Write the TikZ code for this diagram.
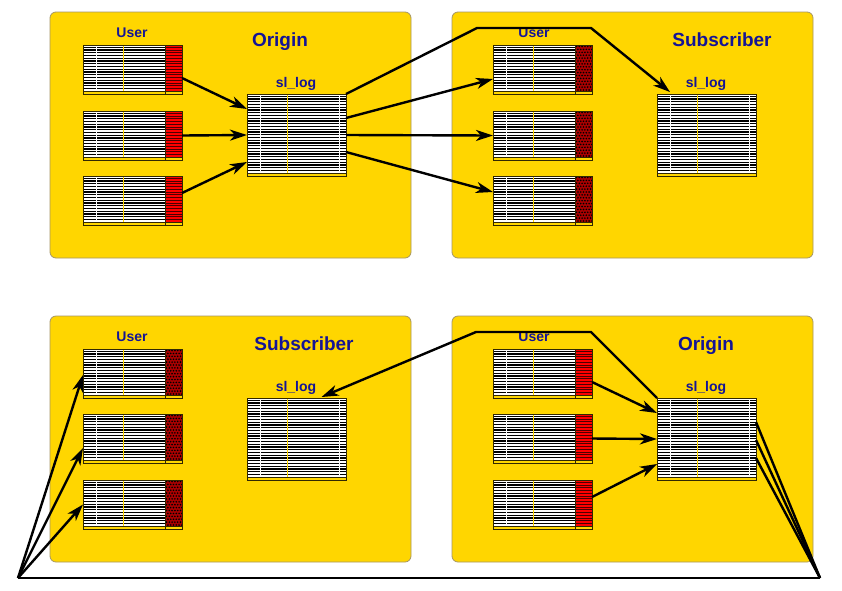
\documentclass[tikz,border=0pt]{standalone}
\usepackage{fontspec}
\setmainfont{Liberation Sans}
\usetikzlibrary{arrows.meta}
\definecolor{gold}{RGB}{255,214,0}
\definecolor{panelline}{RGB}{165,150,100}
\definecolor{navy}{RGB}{20,20,150}
\definecolor{origred}{RGB}{255,0,0}
\definecolor{subred}{RGB}{170,0,0}
\definecolor{tabline}{RGB}{50,40,0}
\tikzset{
  panel/.style={draw=panelline, fill=gold, line width=0.8pt, rounded corners=6pt,
    minimum width=361pt, minimum height=246pt, inner sep=0pt, outer sep=0pt, anchor=north west},
  tabbox/.style={fill=white, draw=none, inner sep=0pt, outer sep=0pt, anchor=north west},
  rowline/.style={black, line width=1.2pt},
  ptitle/.style={text=navy, anchor=base, font=\bfseries\fontsize{19}{22}\selectfont},
  plabel/.style={text=navy, anchor=base, font=\bfseries\fontsize{14}{16}\selectfont},
  conn/.style={black, line width=2.4pt},
  arr/.style={conn, -{Stealth[length=17pt,width=11pt,inset=5pt]}}
}
\newcommand\utab[4]{%
  \node[tabbox, minimum width=99pt, minimum height=49pt] (#1) at (#2,#3) {};
  \begin{scope}[shift={(#2,#3)}]
    \foreach \k in {0,...,15} \draw[rowline] (0,{2.2+\k*2.75}) -- (82,{2.2+\k*2.75});
    \ifx#4s
      \fill[subred] (82,0) rectangle (99,46);
      \foreach \k in {0,...,15} \foreach \j in {0,...,5}
        \fill[black] ({83.5+\j*2.8+mod(\k,2)*1.4},{1.5+\k*2.9}) circle (0.9);
    \else
      \fill[origred] (82,0) rectangle (99,46);
      \foreach \k in {0,...,15} \draw[black!70!red, line width=0.5pt] (82,{2.2+\k*2.75}) -- (99,{2.2+\k*2.75});
    \fi
    \fill[gold] (0,46) rectangle (99,49);
    \draw[white, line width=1pt] (13,0) -- (13,46);
    \draw[gold, line width=0.5pt] (40,0) -- (40,46);
    \draw[tabline, line width=0.6pt] (82,0) -- (82,49);
    \draw[tabline, line width=1pt] (0,46) -- (99,46);
    \draw[tabline, line width=1pt] (0,0) rectangle (99,49);
  \end{scope}}
\newcommand\logtab[3]{%
  \node[tabbox, minimum width=99pt, minimum height=82pt] (#1) at (#2,#3) {};
  \begin{scope}[shift={(#2,#3)}]
    \foreach \k in {0,...,27} \draw[rowline] (0,{2.2+\k*2.75}) -- (99,{2.2+\k*2.75});
    \fill[gold] (0,79) rectangle (99,82);
    \draw[white, line width=1pt] (13,0) -- (13,79);
    \draw[white, line width=1pt] (92,0) -- (92,79);
    \draw[gold, line width=0.5pt] (40,0) -- (40,79);
    \draw[tabline, line width=1pt] (0,79) -- (99,79);
    \draw[tabline, line width=1pt] (0,0) rectangle (99,82);
  \end{scope}}
\begin{document}
\begin{tikzpicture}[x=1pt, y=-1pt]
\useasboundingbox (0,0) rectangle (842,590);
\fill[white] (0,0) rectangle (842,590);
% panels
\node[panel] (ptl) at (50,12) {};
\node[panel] (ptr) at (452,12) {};
\node[panel] (pbl) at (50,316) {};
\node[panel] (pbr) at (452,316) {};
% titles
\node[ptitle] (ttl) at (280,46) {Origin};
\node[ptitle] (ttr) at (722,46) {Subscriber};
\node[ptitle] (tbl) at (304,350) {Subscriber};
\node[ptitle] (tbr) at (706,350) {Origin};
\node[plabel] (utl) at (132,37) {User};
\node[plabel] (utr) at (534,37) {User};
\node[plabel] (ubl) at (132,341) {User};
\node[plabel] (ubr) at (534,341) {User};
\node[plabel] (ltl) at (296,87) {sl\_log};
\node[plabel] (ltr) at (706,87) {sl\_log};
\node[plabel] (lbl) at (296,391) {sl\_log};
\node[plabel] (lbr) at (706,391) {sl\_log};
% tables
\utab{tlu1}{83}{45}{o}
\utab{tlu2}{83}{111}{o}
\utab{tlu3}{83}{176}{o}
\logtab{tllog}{247}{94}
\utab{tru1}{493}{45}{s}
\utab{tru2}{493}{111}{s}
\utab{tru3}{493}{176}{s}
\logtab{trlog}{657}{94}
\utab{blu1}{83}{349}{s}
\utab{blu2}{83}{414}{s}
\utab{blu3}{83}{480}{s}
\logtab{bllog}{247}{398}
\utab{bru1}{493}{349}{o}
\utab{bru2}{493}{414}{o}
\utab{bru3}{493}{480}{o}
\logtab{brlog}{657}{398}
% bend points
\coordinate (b1) at (477,28);
\coordinate (b2) at (591,28);
\coordinate (b3) at (591,332);
\coordinate (b4) at (476,332);
\coordinate (c1) at (820,578);
\coordinate (c2) at (18,578);
% top-left arrows
\draw[arr] ([yshift=-8.5pt]tlu1.east) -- ([yshift=26pt]tllog.west);
\draw[arr] (tlu2.east) -- (tllog.west);
\draw[arr] ([yshift=7.5pt]tlu3.east) -- ([yshift=-27pt]tllog.west);
% origin log to subscriber
\draw[arr] ([yshift=17pt]tllog.east) -- ([yshift=-9.5pt]tru1.west);
\draw[arr] (tllog.east) -- (tru2.west);
\draw[arr] ([yshift=-17pt]tllog.east) -- ([yshift=8.5pt]tru3.west);
\draw[arr, line join=miter] (tllog.north east) -- (b1) -- (b2) -- ([xshift=13pt,yshift=2pt]trlog.north west);
% bottom-right arrows
\draw[arr] ([yshift=-8.5pt]bru1.east) -- ([yshift=26pt]brlog.west);
\draw[arr] (bru2.east) -- (brlog.west);
\draw[arr] ([yshift=7.5pt]bru3.east) -- ([yshift=-25pt]brlog.west);
\draw[arr, line join=miter] (brlog.north west) -- (b3) -- (b4) -- ([xshift=25pt,yshift=1pt]bllog.north);
% loop back
\draw[conn] ([yshift=17pt]brlog.east) -- (c1);
\draw[conn] ([yshift=-1pt]brlog.east) -- (c1);
\draw[conn] ([yshift=-19pt]brlog.east) -- (c1);
\draw[conn] (c1) -- (c2);
\draw[arr] (c2) -- ([yshift=-1.5pt]blu1.west);
\draw[arr] (c2) -- ([yshift=-9.5pt]blu2.west);
\draw[arr] (c2) -- (blu3.west);
\end{tikzpicture}
\end{document}
